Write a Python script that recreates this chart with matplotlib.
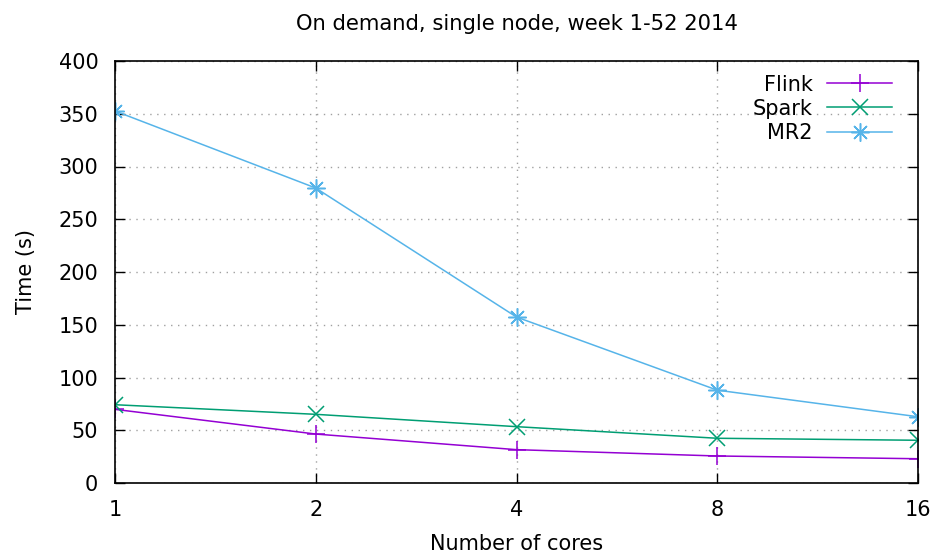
import matplotlib.pyplot as plt
from matplotlib.ticker import FixedLocator, FixedFormatter, NullLocator

cores = [1, 2, 4, 8, 16]
flink = [69.8, 46.4, 31.6, 25.6, 23.0]
spark = [74.2, 65.1, 53.4, 42.4, 40.5]
mr2 = [352.6, 279.6, 157.3, 88.0, 62.8]
tick_labels = ["1", "2", "4", "8", "16"]

fig = plt.figure(figsize=(9.38, 5.53), dpi=100)
ax = fig.add_axes([115 / 938, 1 - 483 / 553, (918 - 115) / 938, (483 - 61) / 553])

ax.plot(cores, flink, color="#9400d3", marker="+", markersize=13, mew=1.1, lw=1.1, label="Flink")
ax.plot(cores, spark, color="#009e73", marker="x", markersize=11, mew=1.1, lw=1.1, label="Spark")
ax.plot(cores, mr2, color="#56b4e9", marker=(8, 2, 0), markersize=13, mew=1.1, lw=1.1, label="MR2")

ax.set_xscale("log", base=2)
ax.set_xlim(1, 16)
ax.set_ylim(0, 400)
ax.xaxis.set_major_locator(FixedLocator(cores))
ax.xaxis.set_major_formatter(FixedFormatter(tick_labels))
ax.xaxis.set_minor_locator(NullLocator())
ax.set_yticks(range(0, 401, 50))

ax.grid(True, color="#a0a0a0", linestyle=(0, (1, 4)), lw=1)
ax.tick_params(direction="in", top=True, right=True, length=7, width=1, labelsize=15, pad=12)
for s in ax.spines.values():
    s.set_linewidth(1.2)

ax.set_title("On demand, single node, week 1-52 2014", fontsize=15.2, pad=22)
ax.set_xlabel("Number of cores", fontsize=15, labelpad=10)
ax.set_ylabel("Time (s)", fontsize=15, labelpad=16)

ax.legend(loc="upper right", frameon=False, markerfirst=False, fontsize=15,
          handlelength=3.1, handletextpad=0.7, labelspacing=0.2,
          borderaxespad=0.55, borderpad=0.2, bbox_to_anchor=(0.987, 1.005))

fig.savefig("out.png", dpi=100)
